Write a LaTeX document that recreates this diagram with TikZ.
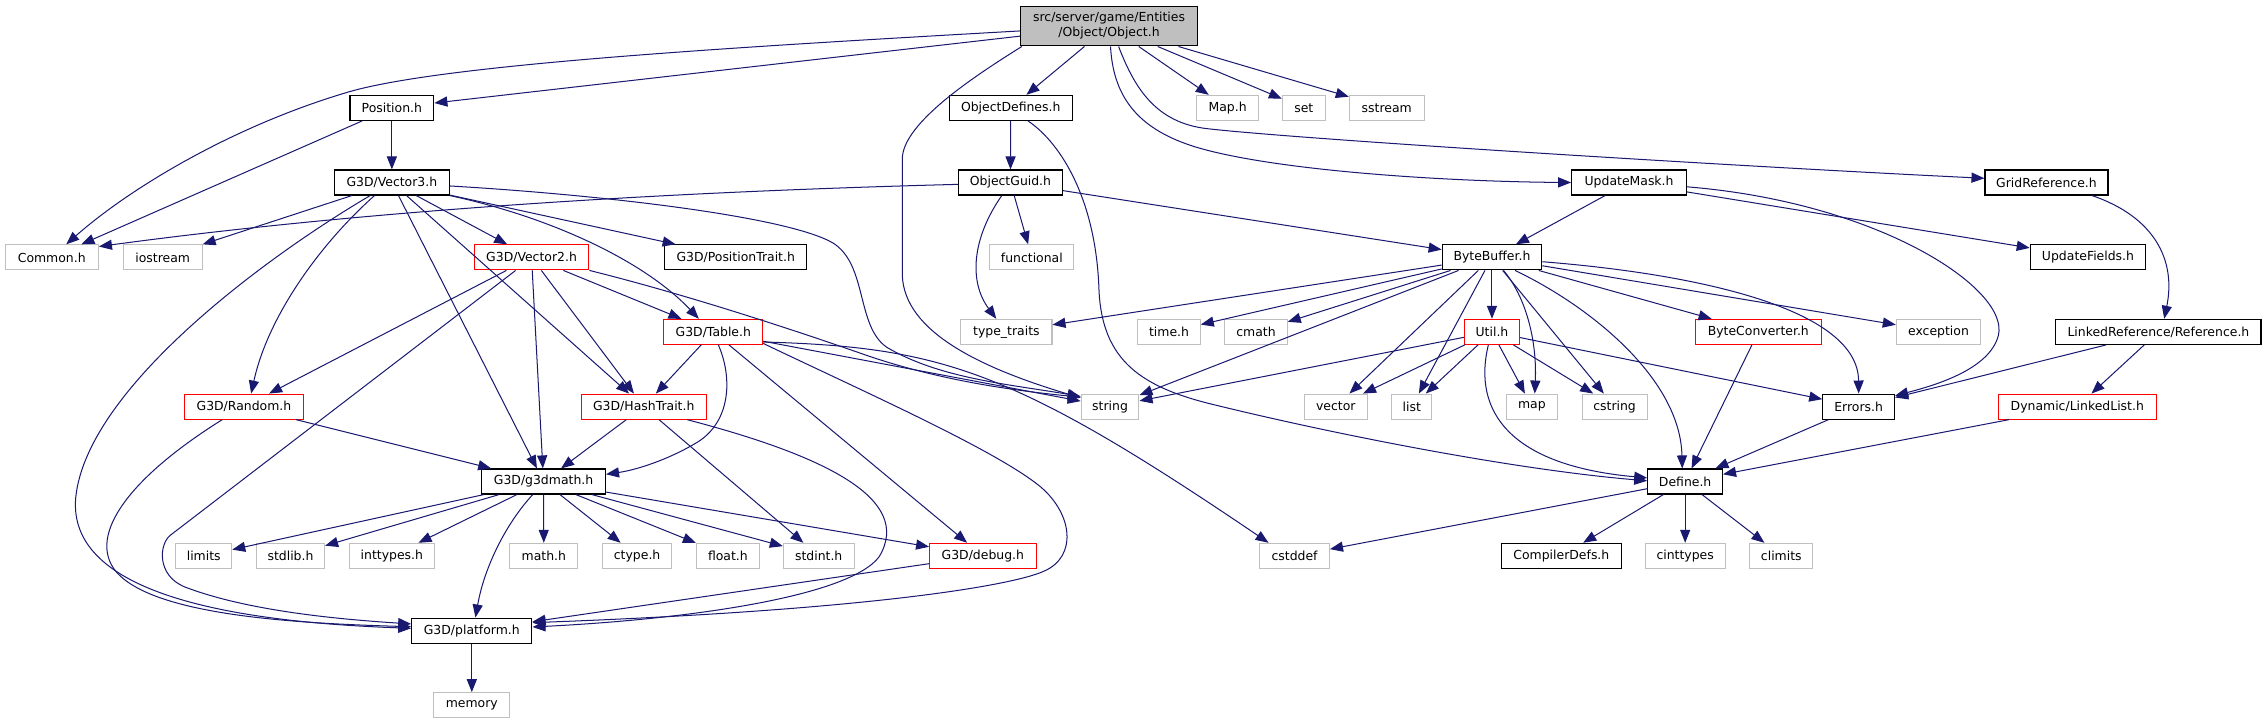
\documentclass[tikz,border=0pt]{standalone}
\usepackage{fontspec}
\setmainfont{DejaVu Sans}
\usetikzlibrary{arrows.meta}
\definecolor{edgeblue}{HTML}{191970}
\definecolor{extgrey}{HTML}{BFBFBF}
\definecolor{objgrey}{HTML}{BFBFBF}
\definecolor{truncred}{HTML}{FF0000}
\newcommand\dgfont{\fontsize{8.6}{10.4}\selectfont}
\tikzset{
  base/.style={rectangle, minimum height=17.3pt, inner sep=0pt, font=\dgfont, fill=white},
  doc/.style={base, draw=black, line width=0.8pt},
  ext/.style={base, draw=extgrey, line width=0.75pt},
  trunc/.style={base, draw=truncred, line width=0.75pt},
  e/.style={draw=edgeblue, line width=0.7pt, -{Triangle[length=9pt,width=7pt]}},
}
\begin{document}
\begin{tikzpicture}[x=1pt,y=-1pt]
\useasboundingbox (0,0) rectangle (1567.8,500.7);
% ---- nodes ----
\node[doc, fill=objgrey, minimum width=122.5pt, minimum height=27.5pt, align=center] (obj) at (767,18) {src/server/game/Entities\\/Object/Object.h};
\node[doc, minimum width=58pt] (pos) at (271,74.6) {Position.h};
\node[doc, minimum width=85pt] (objdef) at (699,74.6) {ObjectDefines.h};
\node[ext, minimum width=42.5pt] (maph) at (849,74.6) {Map.h};
\node[ext, minimum width=29.6pt] (set) at (901.7,74.6) {set};
\node[ext, minimum width=51.7pt] (sstream) at (959,74.6) {sstream};
\node[doc, minimum width=79.3pt] (vec3) at (271,126.2) {G3D/Vector3.h};
\node[doc, minimum width=72pt] (guid) at (698.8,126.2) {ObjectGuid.h};
\node[doc, minimum width=79.3pt] (umask) at (1126.6,126.2) {UpdateMask.h};
\node[doc, minimum width=85pt] (gridref) at (1415.3,126.2) {GridReference.h};
\node[ext, minimum width=64.5pt] (common) at (35.8,178) {Common.h};
\node[ext, minimum width=54.5pt] (iostream) at (112.5,178) {iostream};
\node[trunc, minimum width=79.3pt] (vec2) at (367.6,178) {G3D/Vector2.h};
\node[doc, minimum width=98.3pt] (postrait) at (508.8,178) {G3D/PositionTrait.h};
\node[ext, minimum width=58pt] (functional) at (713.6,178) {functional};
\node[doc, minimum width=68.8pt] (bbuf) at (1031.8,178) {ByteBuffer.h};
\node[doc, minimum width=79.8pt] (ufields) at (1444,178) {UpdateFields.h};
\node[trunc, minimum width=68.3pt] (table) at (493.3,229.5) {G3D/Table.h};
\node[ext, minimum width=63pt] (typetraits) at (696,229.5) {type\_traits};
\node[ext, minimum width=43.1pt] (timeh) at (808.5,229.5) {time.h};
\node[ext, minimum width=43.2pt] (cmath) at (868.6,229.5) {cmath};
\node[trunc, minimum width=38.2pt] (util) at (1031.8,229.5) {Util.h};
\node[trunc, minimum width=87pt] (bconv) at (1216,229.5) {ByteConverter.h};
\node[ext, minimum width=58.3pt] (exception) at (1340.6,229.5) {exception};
\node[doc, minimum width=141.8pt] (linkref) at (1492.7,229.5) {LinkedReference/Reference.h};
\node[trunc, minimum width=82.1pt] (random) at (168.7,281.2) {G3D/Random.h};
\node[trunc, minimum width=86.7pt] (hash) at (445.2,281.2) {G3D/HashTrait.h};
\node[ext, minimum width=39.9pt] (string) at (767.7,281.2) {string};
\node[ext, minimum width=43.2pt] (vector) at (923.8,281.2) {vector};
\node[ext, minimum width=27.6pt] (list) at (976.4,281.2) {list};
\node[ext, minimum width=35.1pt] (mapx) at (1059.4,281.2) {map};
\node[ext, minimum width=45pt] (cstring) at (1116.6,281.2) {cstring};
\node[doc, minimum width=49.6pt] (errors) at (1285.4,281.2) {Errors.h};
\node[trunc, minimum width=109pt] (llist) at (1436.6,281.2) {Dynamic/LinkedList.h};
\node[doc, minimum width=85.6pt] (g3dmath) at (375.9,333) {G3D/g3dmath.h};
\node[doc, minimum width=51.6pt] (define) at (1165.4,333) {Define.h};
\node[ext, minimum width=38.7pt] (limits) at (140.9,384.4) {limits};
\node[ext, minimum width=47.1pt] (stdlib) at (200.9,384.4) {stdlib.h};
\node[ext, minimum width=58.9pt] (inttypes) at (271,384.4) {inttypes.h};
\node[ext, minimum width=47pt] (mathh) at (376.1,384.4) {math.h};
\node[ext, minimum width=47.8pt] (ctype) at (440.6,384.4) {ctype.h};
\node[ext, minimum width=43.5pt] (floath) at (503.4,384.4) {float.h};
\node[ext, minimum width=48.9pt] (stdint) at (566.2,384.4) {stdint.h};
\node[trunc, minimum width=73.6pt] (debug) at (679.7,384.4) {G3D/debug.h};
\node[ext, minimum width=48.2pt] (cstddef) at (895.3,384.4) {cstddef};
\node[doc, minimum width=82.9pt] (compdefs) at (1079.8,384.4) {CompilerDefs.h};
\node[ext, minimum width=55.2pt] (cinttypes) at (1165.4,384.4) {cinttypes};
\node[ext, minimum width=43.5pt] (climits) at (1231.9,384.4) {climits};
\node[doc, minimum width=83.1pt] (platform) at (326.3,436.1) {G3D/platform.h};
\node[ext, minimum width=52.5pt] (memory) at (326.3,487.7) {memory};
% ---- edges: Object.h ----
\draw[e] ([yshift=-3.4pt]obj.west) .. controls (500,33) and (300,45) .. (238,64.5) .. controls (160,88) and (90,130) .. ([xshift=10pt]common.north);
\draw[e] (obj) -- (pos);
\draw[e] ([xshift=1.3pt]obj.south west) .. controls (675,52) and (624,85) .. (624,110) -- (624,190) .. controls (625,230) and (680,255) .. ([yshift=-3pt]string.north west);
\draw[e] (obj) -- (objdef);
\draw[e] ([xshift=1pt]obj.south) .. controls (770,70) and (790,90) .. (826,101.4) .. controls (880,118) and (1000,125.6) .. (umask.west);
\draw[e] ([xshift=6.6pt]obj.south) .. controls (785,62) and (800,85) .. (835,89) .. controls (900,96.4) and (1200,115) .. ([yshift=2.9pt]gridref.west);
\draw[e] (obj) -- (maph);
\draw[e] (obj) -- (set);
\draw[e] (obj) -- (sstream);
% ---- Position / ObjectDefines / ObjectGuid ----
\draw[e] (pos) -- (common);
\draw[e] (pos) -- (vec3);
\draw[e] (objdef) -- (guid);
\draw[e] ([xshift=12pt]objdef.south) .. controls (735,100) and (758,140) .. (760,200) .. controls (762,250) and (790,268) .. (840,280) .. controls (930,302) and (1050,325) .. ([yshift=0.5pt]define.west);
\draw[e] ([yshift=-1.3pt]guid.west) .. controls (450,133) and (250,146) .. ([yshift=-1.5pt]common.north east);
\draw[e] (guid) -- (functional);
\draw[e] ([xshift=-6pt]guid.south) .. controls (672,165) and (670,195) .. ([xshift=-7pt]typetraits.north);
\draw[e] (guid) -- (bbuf);
% ---- Vector3 ----
\draw[e] (vec3) -- (iostream);
\draw[e] (vec3) -- (vec2);
\draw[e] (vec3) -- (postrait);
\draw[e] (vec3.south east) .. controls (380,150) and (445,180) .. ([xshift=-10pt]table.north);
\draw[e] (vec3) -- (hash);
\draw[e] (vec3) -- (g3dmath);
\draw[e] ([xshift=-12pt]vec3.south) .. controls (220,170) and (185,220) .. ([xshift=5pt]random.north);
\draw[e] ([xshift=-15pt]vec3.south) .. controls (180,180) and (60,270) .. (52.4,343.9) .. controls (48,390) and (100,428) .. ([yshift=1.6pt]platform.west);
\draw[e] ([yshift=-2.4pt]vec3.east) .. controls (420,135) and (545,150) .. (576,168) .. controls (600,183) and (592,225) .. (613,240) .. controls (650,262) and (700,266) .. ([yshift=-2pt]string.north west);
% ---- Vector2 ----
\draw[e] (vec2) -- (random);
\draw[e] ([xshift=-11pt]vec2.south) -- (118,370) .. controls (110,376) and (108,398) .. (128,406) .. controls (170,422) and (230,428) .. ([yshift=4.6pt]platform.west);
\draw[e] (vec2) -- (g3dmath);
\draw[e] (vec2) -- (hash);
\draw[e] (vec2) -- (table);
\draw[e] (vec2.south east) .. controls (480,205) and (560,232) .. (600,246) .. controls (650,263) and (700,270) .. ([yshift=-2.5pt]string.north west);
% ---- Table ----
\draw[e] (table) -- (hash);
\draw[e] ([xshift=3.5pt]table.south) .. controls (507,262) and (505,292) .. (482,306) .. controls (462,318) and (440,325) .. ([yshift=5pt]g3dmath.east);
\draw[e] (table) -- (debug);
\draw[e] (table) -- (string);
\draw[e] ([yshift=-8pt]table.east) .. controls (600,272) and (690,312) .. (720,337) .. controls (742,356) and (745,385) .. (722,395) .. controls (700,405) and (600,422) .. ([yshift=5.5pt]platform.east);
\draw[e] ([yshift=-7pt]table.east) .. controls (650,240) and (700,255) .. ([xshift=-18pt]cstddef.north);
% ---- HashTrait / Random ----
\draw[e] (hash) -- (g3dmath);
\draw[e] (hash) -- (stdint);
\draw[e] ([xshift=30pt]hash.south) .. controls (570,315) and (632,345) .. (608,385) .. controls (588,412) and (480,428) .. ([yshift=2.5pt]platform.east);
\draw[e] (random) -- (g3dmath);
\draw[e] ([xshift=-15pt]random.south) .. controls (90,330) and (60,370) .. (80,395) .. controls (105,425) and (200,431) .. ([yshift=2.7pt]platform.west);
% ---- g3dmath ----
\foreach \tgt in {limits,stdlib,inttypes,mathh,ctype,floath,stdint,debug} \draw[e] (g3dmath) -- (\tgt);
\draw[e] ([xshift=-7.5pt]g3dmath.south) .. controls (350,362) and (335,392) .. ([xshift=2.5pt]platform.north);
\draw[e] (debug) -- (platform);
\draw[e] (platform) -- (memory);
% ---- right part ----
\draw[e] (umask) -- (bbuf);
\draw[e] (umask) -- (ufields);
\draw[e] ([yshift=-3pt]umask.east) .. controls (1300,140) and (1390,200) .. (1382,232) .. controls (1376,255) and (1340,266) .. ([yshift=-1.5pt]errors.north east);
\draw[e] ([xshift=31.5pt]gridref.south) .. controls (1490,150) and (1505,180) .. ([xshift=4pt]linkref.north);
\foreach \tgt in {typetraits,timeh,cmath,string,vector,list,util,cstring,bconv,exception} \draw[e] (bbuf) -- (\tgt);
\draw[e] ([xshift=8pt]bbuf.south) .. controls (1055,205) and (1063,235) .. ([xshift=2pt]mapx.north);
\draw[e] ([xshift=16pt]bbuf.south) .. controls (1100,212) and (1162,262) .. ([xshift=-2pt]define.north);
\draw[e] ([yshift=-3pt]bbuf.east) .. controls (1180,190) and (1285,215) .. (errors.north);
\foreach \tgt in {string,vector,list,mapx,cstring,errors} \draw[e] (util) -- (\tgt);
\draw[e] ([xshift=-2.5pt]util.south) .. controls (1018,285) and (1045,322) .. ([yshift=2.5pt]define.west);
\draw[e] (bconv) -- (define);
\draw[e] (errors) -- (define);
\draw[e] (llist) -- (define);
\draw[e] (linkref) -- (errors);
\draw[e] (linkref) -- (llist);
\foreach \tgt in {cstddef,compdefs,cinttypes,climits} \draw[e] (define) -- (\tgt);
\end{tikzpicture}
\end{document}
